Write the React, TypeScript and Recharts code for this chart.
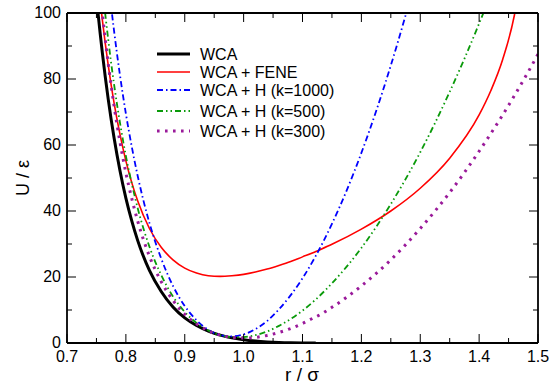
import React from 'react'
import { LineChart, Line, XAxis, YAxis, Legend } from 'recharts'

// r / sigma sample points
const rValues = [
  0.74, 0.75, 0.76, 0.77, 0.78, 0.79, 0.8, 0.81, 0.82, 0.84, 0.86, 0.88, 0.9,
  0.92, 0.94, 0.96, 0.98, 1.0, 1.02, 1.04, 1.06, 1.08, 1.1, 1.12, 1.1225, 1.15,
  1.2, 1.25, 1.3, 1.35, 1.4, 1.42, 1.44, 1.46, 1.48, 1.5,
]

const wcaValues = [
  125, 104.8, 88, 73.9, 62.1, 52.2, 43.9, 37, 31.1, 22, 15.6, 10.9, 7.6, 5.3,
  3.6, 2.4, 1.6, 1.0, 0.6, 0.34, 0.17, 0.07, 0.02, 0, 0, null, null, null, null,
  null, null, null, null, null, null, null,
]

const feneValues = [
  134.5, 114.5, 98, 84.2, 72.7, 63.2, 55.2, 48.6, 43.1, 34.7, 29, 25.2, 22.7,
  21.2, 20.4, 20.2, 20.4, 20.8, 21.5, 22.4, 23.5, 24.7, 26.1, 27.5, 27.7, 29.9,
  34.5, 40, 46.9, 56, 69.1, 76.5, 85.9, 99.4, 122.5, null,
]

const h1000Values = [
  173, 149, 128, 110, 94.5, 81.1, 69.5, 59.5, 50.7, 36.4, 25.6, 17.3, 11.2, 6.9,
  4.0, 2.4, 2.0, 2.6, 4.2, 6.7, 10.2, 14.5, 19.6, 25.6, 26.4, 36.1, 57.6, 84.1,
  115.6, 152, null, null, null, null, null, null,
]

const h500Values = [
  149, 127, 108, 92, 78.3, 66.7, 56.7, 48.3, 40.9, 29.2, 20.6, 14.1, 9.4, 6.1,
  3.8, 2.4, 1.8, 1.8, 2.4, 3.5, 5.2, 7.3, 9.8, 12.8, 13.2, 18.1, 28.8, 42.1,
  57.8, 76.1, 96.8, 105.8, 115, null, null, null,
]

const h300Values = [
  140, 118, 100, 84.7, 71.8, 60.9, 51.6, 43.8, 37, 26.3, 18.6, 12.9, 8.7, 5.8,
  3.7, 2.4, 1.7, 1.5, 1.7, 2.3, 3.2, 4.4, 5.9, 7.7, 7.9, 10.8, 17.3, 25.2, 34.7,
  45.6, 58.1, 63.5, 69.1, 75, 81.1, 87.5,
]

const seriesNames = [
  'WCA',
  'WCA + FENE',
  'WCA + H (k=1000)',
  'WCA + H (k=500)',
  'WCA + H (k=300)',
]

const xMajorTicks = [0.7, 0.8, 0.9, 1.0, 1.1, 1.2, 1.3, 1.4, 1.5]
const xMinorTicks = [0.75, 0.85, 0.95, 1.05, 1.15, 1.25, 1.35, 1.45]
const yMajorTicks = [0, 20, 40, 60, 80, 100]
const yMinorTicks = [10, 30, 50, 70, 90]

const data = rValues.map((r, i) => ({
  r,
  wca: wcaValues[i],
  fene: feneValues[i],
  h1000: h1000Values[i],
  h500: h500Values[i],
  h300: h300Values[i],
}))

const xTicks = [...xMajorTicks, ...xMinorTicks].sort((a, b) => a - b)
const yTicks = [...yMajorTicks, ...yMinorTicks].sort((a, b) => a - b)
const isMajor = (list: number[], v: number) => list.some((t) => Math.abs(t - v) < 1e-6)

const font = '"Liberation Sans", Arial, Helvetica, sans-serif'
const MAJOR = 9
const MINOR = 5

const styles = [
  { key: 'wca', color: '#000000', width: 3, dash: undefined },
  { key: 'fene', color: '#ff0000', width: 1.6, dash: undefined },
  { key: 'h1000', color: '#0000ff', width: 1.8, dash: '6 3 1.5 3' },
  { key: 'h500', color: '#0a9a0a', width: 1.8, dash: '6 3 1.5 3 1.5 3' },
  { key: 'h300', color: '#9a1a9a', width: 3, dash: '2.6 5.4' },
]

const legendRows = [12, 30, 48, 69, 89]

const renderLegend = () => (
  <svg width={200} height={110} style={{ overflow: 'visible' }}>
    {styles.map((s, i) => (
      <g key={s.key}>
        <line
          x1={0}
          x2={33}
          y1={legendRows[i]}
          y2={legendRows[i]}
          stroke={s.color}
          strokeWidth={s.width}
          strokeDasharray={s.dash}
        />
        <text
          x={43}
          y={legendRows[i]}
          dy="0.36em"
          fontSize={16}
          fontFamily={font}
          fill="#000"
        >
          {seriesNames[i]}
        </text>
      </g>
    ))}
  </svg>
)

const BottomTick = (props: any) => {
  const { x, y, payload } = props
  const major = isMajor(xMajorTicks, payload.value)
  return (
    <g>
      <line x1={x} x2={x} y1={y} y2={y - (major ? MAJOR : MINOR)} stroke="#000" strokeWidth={1} />
      {major && (
        <text x={x} y={y + 19} textAnchor="middle" fontSize={16} fontFamily={font} fill="#000">
          {payload.value.toFixed(1)}
        </text>
      )}
    </g>
  )
}

const TopTick = (props: any) => {
  const { x, y, payload } = props
  const major = isMajor(xMajorTicks, payload.value)
  return <line x1={x} x2={x} y1={y} y2={y + (major ? MAJOR : MINOR)} stroke="#000" strokeWidth={1} />
}

const LeftTick = (props: any) => {
  const { x, y, payload } = props
  const major = isMajor(yMajorTicks, payload.value)
  return (
    <g>
      <line x1={x} x2={x + (major ? MAJOR : MINOR)} y1={y} y2={y} stroke="#000" strokeWidth={1} />
      {major && (
        <text x={x - 6} y={y} dy="0.33em" textAnchor="end" fontSize={16} fontFamily={font} fill="#000">
          {payload.value}
        </text>
      )}
    </g>
  )
}

const RightTick = (props: any) => {
  const { x, y, payload } = props
  const major = isMajor(yMajorTicks, payload.value)
  return <line x1={x} x2={x - (major ? MAJOR : MINOR)} y1={y} y2={y} stroke="#000" strokeWidth={1} />
}

const frame = { stroke: '#000', strokeWidth: 1.8 }

export default function App() {
  return (
    <div style={{ position: 'absolute', left: 0, top: 0, width: 550, height: 387, background: '#fff', fontFamily: font }}>
      <LineChart
        width={550}
        height={387}
        data={data}
        margin={{ top: 12, right: 11, bottom: 43, left: 66 }}
      >
        <XAxis
          dataKey="r"
          type="number"
          domain={[0.7, 1.5]}
          allowDataOverflow
          ticks={xTicks}
          interval={0}
          height={1}
          tickSize={0}
          tickMargin={0}
          tickLine={false}
          tick={<BottomTick />}
          axisLine={frame}
        />
        <XAxis
          xAxisId="top"
          orientation="top"
          dataKey="r"
          type="number"
          domain={[0.7, 1.5]}
          allowDataOverflow
          ticks={xTicks}
          interval={0}
          height={1}
          tickSize={0}
          tickMargin={0}
          tickLine={false}
          tick={<TopTick />}
          axisLine={frame}
        />
        <YAxis
          type="number"
          domain={[0, 100]}
          allowDataOverflow
          ticks={yTicks}
          interval={0}
          width={1}
          tickSize={0}
          tickMargin={0}
          tickLine={false}
          tick={<LeftTick />}
          axisLine={frame}
        />
        <YAxis
          yAxisId="right"
          orientation="right"
          type="number"
          domain={[0, 100]}
          allowDataOverflow
          ticks={yTicks}
          interval={0}
          width={1}
          tickSize={0}
          tickMargin={0}
          tickLine={false}
          tick={<RightTick />}
          axisLine={frame}
        />
        <Legend
          layout="horizontal"
          verticalAlign="middle"
          align="center"
          content={renderLegend}
          wrapperStyle={{ left: 157, top: 42, width: 200, height: 110 }}
        />
        {styles.map((s, i) => (
          <Line
            key={s.key}
            dataKey={s.key}
            name={seriesNames[i]}
            type="monotone"
            stroke={s.color}
            strokeWidth={s.width}
            strokeDasharray={s.dash}
            strokeLinecap="butt"
            dot={false}
            activeDot={false}
            connectNulls
            isAnimationActive={false}
          />
        ))}
      </LineChart>
      <svg
        width={550}
        height={387}
        style={{ position: 'absolute', left: 0, top: 0, pointerEvents: 'none' }}
      >
        <text
          x={29}
          y={178}
          transform="rotate(-90, 29, 178)"
          textAnchor="middle"
          fontSize={18}
          fontFamily={font}
          fill="#000"
        >
          U / ε
        </text>
        <text
          x={302}
          y={381}
          textAnchor="middle"
          fontSize={19}
          fontFamily={font}
          fill="#000"
        >
          r / σ
        </text>
      </svg>
    </div>
  )
}
